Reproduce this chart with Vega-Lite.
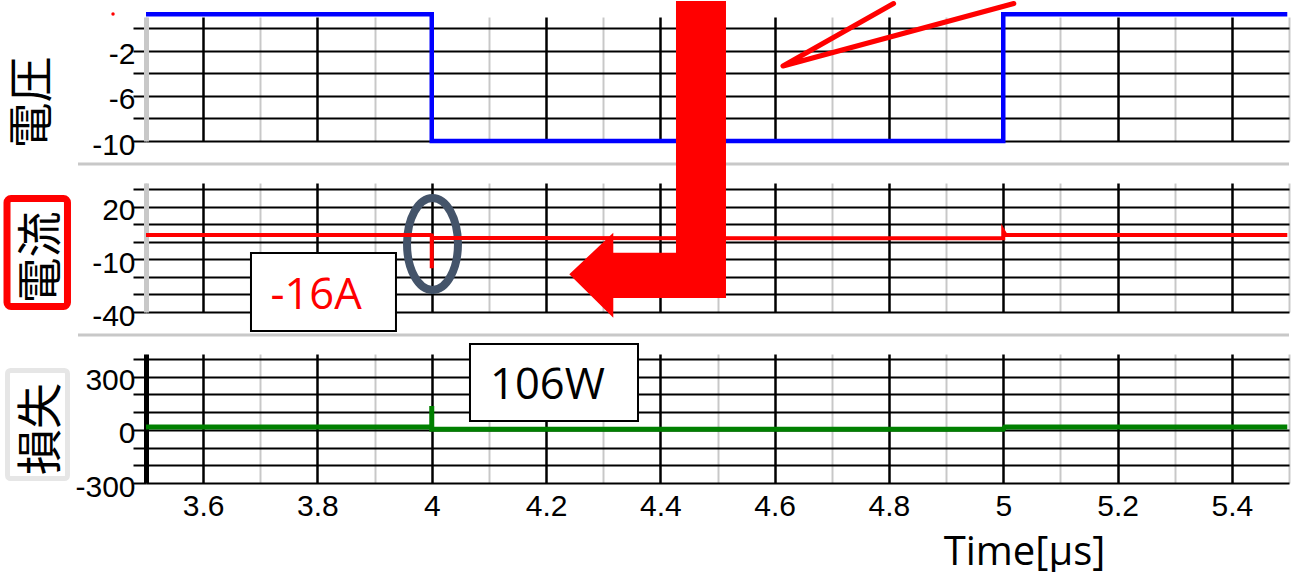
{
  "$schema": "https://vega.github.io/schema/vega-lite/v6.json",
  "padding": {"left": 3, "top": 0, "right": 0, "bottom": 0},
  "bounds": "flush",
  "spacing": 42,
  "config": {
    "view": {"stroke": null},
    "axis": {"labelFont": "Liberation Sans", "labelFontSize": 30, "labelColor": "black", "titleColor": "black", "labelOverlap": false, "labelFlush": false, "gridOpacity": 1}
  },
  "vconcat": [
    {
      "width": 1143,
      "height": 124,
      "encoding": {
        "x": {"field": "t", "type": "quantitative", "scale": {"domain": [3.5, 5.5], "nice": false, "zero": false},
          "axis": {"values": [3.5,3.6,3.7,3.8,3.9,4,4.1,4.2,4.3,4.4,4.5,4.6,4.7,4.8,4.9,5,5.1,5.2,5.3,5.4,5.5],
            "labels": false, "ticks": false, "domain": false, "title": null, "grid": true,
            "gridColor": {"condition": {"test": "round(datum.value*10) % 2 == 0", "value": "black"}, "value": "#c8c8c8"},
            "gridWidth": {"condition": {"test": "round(datum.value*10) % 2 == 0", "value": 2.5}, "value": 2}}},
        "y": {"field": "v", "type": "quantitative", "scale": {"domain": [-10, 1], "nice": false, "zero": false},
          "axis": {"values": [0,-2,-4,-6,-8,-10],
            "labelExpr": "datum.value == -2 || datum.value == -6 || datum.value == -10 ? '' + datum.value : ''",
            "grid": true, "gridColor": "black", "gridWidth": 2,
            "ticks": true, "tickSize": 13, "tickColor": "black", "tickWidth": 2,
            "domain": true, "domainColor": "#c8c8c8", "domainWidth": 5,
            "labelPadding": -2, "labelOffset": 4,
            "title": "電圧", "titleFont": "Noto Sans CJK JP", "titleFontSize": 46, "titleFontWeight": "normal",
            "titleAngle": -90, "titleX": -113.6, "titleY": 85, "titleAlign": "center", "titleBaseline": "middle"}}
      },
      "layer": [
        {
          "data": {"values": [
            {"i": 0, "t": 3.5, "v": 1.25}, {"i": 1, "t": 4.0, "v": 1.25}, {"i": 2, "t": 4.0, "v": -10},
            {"i": 3, "t": 5.0, "v": -10}, {"i": 4, "t": 5.0, "v": 1.25}, {"i": 5, "t": 5.497, "v": 1.25}]},
          "mark": {"type": "line", "color": "#0000ff", "strokeWidth": 4.5},
          "encoding": {"order": {"field": "i", "type": "quantitative"}}
        },
        {
          "data": {"values": [
            {"i": 0, "t": 4.8081, "v": 2.1976}, {"i": 1, "t": 4.6146, "v": -3.347}, {"i": 2, "t": 5.0185, "v": 2.1976}]},
          "mark": {"type": "line", "color": "#ff0000", "strokeWidth": 5, "strokeCap": "round", "strokeJoin": "round"},
          "encoding": {"order": {"field": "i", "type": "quantitative"}}
        },
        {
          "data": {"values": [{"t": 3.4423, "v": 1.266}]},
          "mark": {"type": "point", "shape": "circle", "filled": true, "color": "#ff0000", "size": 12, "opacity": 1}
        }
      ]
    },
    {
      "width": 1143,
      "height": 129,
      "encoding": {
        "x": {"field": "t", "type": "quantitative", "scale": {"domain": [3.5, 5.5], "nice": false, "zero": false},
          "axis": {"values": [3.5,3.6,3.7,3.8,3.9,4,4.1,4.2,4.3,4.4,4.5,4.6,4.7,4.8,4.9,5,5.1,5.2,5.3,5.4,5.5],
            "labels": false, "ticks": false, "domain": false, "title": null, "grid": true,
            "gridColor": {"condition": {"test": "round(datum.value*10) % 2 == 0", "value": "black"}, "value": "#c8c8c8"},
            "gridWidth": {"condition": {"test": "round(datum.value*10) % 2 == 0", "value": 2.5}, "value": 2}}},
        "y": {"field": "v", "type": "quantitative", "scale": {"domain": [-40, 33.6], "nice": false, "zero": false},
          "axis": {"values": [30,20,10,0,-10,-20,-30,-40],
            "labelExpr": "datum.value == 20 || datum.value == -10 || datum.value == -40 ? '' + datum.value : ''",
            "grid": true, "gridColor": "black", "gridWidth": 2,
            "ticks": true, "tickSize": 13, "tickColor": "black", "tickWidth": 2,
            "domain": true, "domainColor": "#c8c8c8", "domainWidth": 5,
            "labelPadding": -2, "labelOffset": 4,
            "title": "電流", "titleFont": "Noto Sans CJK JP", "titleFontSize": 46, "titleFontWeight": "normal",
            "titleAngle": -90, "titleX": -104.6, "titleY": 74, "titleAlign": "center", "titleBaseline": "middle"}}
      },
      "layer": [
        {
          "data": {"values": [{"t": 3.381, "t2": 5.5, "v": 44.44}]},
          "mark": {"type": "rule", "color": "#c8c8c8", "strokeWidth": 3},
          "encoding": {"x2": {"field": "t2"}}
        },
        {
          "data": {"values": [{"t": 3.2568, "t2": 3.3626, "v": 24.76, "v2": -36.86}]},
          "mark": {"type": "rect", "fill": null, "fillOpacity": 0, "stroke": "#ff0000", "strokeWidth": 7, "cornerRadius": 4},
          "encoding": {"x2": {"field": "t2"}, "y2": {"field": "v2"}}
        },
        {
          "data": {"values": [{"t": 4.0013, "v": -1.2}]},
          "mark": {"type": "point", "shape": "M 0.52 0 C 0.52 0.5186 0.2872 0.939 0 0.939 C -0.2872 0.939 -0.52 0.5186 -0.52 0 C -0.52 -0.5186 -0.2872 -0.939 0 -0.939 C 0.2872 -0.939 0.52 -0.5186 0.52 0 Z",
            "size": 9604, "filled": false, "color": "#44546A", "strokeWidth": 8, "opacity": 1}
        },
        {
          "data": {"values": [
            {"i": 0, "t": 3.5, "v": 3.9}, {"i": 1, "t": 3.999, "v": 3.9}, {"i": 2, "t": 4.0, "v": 4.7},
            {"i": 3, "t": 4.0, "v": -15}, {"i": 4, "t": 4.0, "v": 2.2}, {"i": 5, "t": 5.0, "v": 2.1},
            {"i": 6, "t": 5.0, "v": 6.2}, {"i": 7, "t": 5.004, "v": 3.9}, {"i": 8, "t": 5.497, "v": 3.9}]},
          "mark": {"type": "line", "color": "#ff0000", "strokeWidth": 4},
          "encoding": {"order": {"field": "i", "type": "quantitative"}}
        },
        {
          "data": {"values": [{"t": 3.6837, "t2": 3.9374, "v": -6.34, "v2": -50.84}]},
          "mark": {"type": "rect", "fill": "white", "stroke": "black", "strokeWidth": 2},
          "encoding": {"x2": {"field": "t2"}, "y2": {"field": "v2"}}
        },
        {
          "data": {"values": [{"t": 3.7975, "v": -38.29, "label": "-16A"}]},
          "mark": {"type": "text", "font": "Open Sans", "fontSize": 43.5, "color": "#ff0000", "align": "center", "baseline": "alphabetic"},
          "encoding": {"text": {"field": "label"}}
        },
        {
          "data": {"values": [{"t": 4.3775, "v": 52.71}]},
          "mark": {"type": "point", "shape": "M 0.1919 -1 L 0.5286 -1 L 0.5286 1 L -0.2303 1 L -0.2303 1.1327 L -0.5266 0.8404 L -0.2303 0.5603 L -0.2303 0.6949 L 0.1919 0.6949 Z",
            "size": 88209, "filled": true, "color": "#ff0000", "opacity": 1}
        }
      ]
    },
    {
      "width": 1143,
      "height": 129,
      "encoding": {
        "x": {"field": "t", "type": "quantitative", "scale": {"domain": [3.5, 5.5], "nice": false, "zero": false},
          "axis": {"values": [3.5,3.6,3.7,3.8,3.9,4,4.1,4.2,4.3,4.4,4.5,4.6,4.7,4.8,4.9,5,5.1,5.2,5.3,5.4,5.5],
            "labelExpr": "round(datum.value*10) % 2 == 0 ? '' + datum.value : ''",
            "ticks": false, "domain": false, "grid": true, "labelPadding": 8,
            "gridColor": {"condition": {"test": "round(datum.value*10) % 2 == 0", "value": "black"}, "value": "#c8c8c8"},
            "gridWidth": {"condition": {"test": "round(datum.value*10) % 2 == 0", "value": 2.5}, "value": 2},
            "title": "Time[µs]", "titleFont": "Open Sans", "titleFontSize": 40, "titleFontWeight": "normal",
            "titleX": 878, "titleY": 81, "titleAlign": "center", "titleBaseline": "alphabetic"}},
        "y": {"field": "v", "type": "quantitative", "scale": {"domain": [-300, 428], "nice": false, "zero": false},
          "axis": {"values": [400,300,200,100,0,-100,-200,-300],
            "labelExpr": "datum.value == 300 || datum.value == 0 || datum.value == -300 ? '' + datum.value : ''",
            "grid": true, "gridColor": "black", "gridWidth": 2,
            "ticks": true, "tickSize": 13, "tickColor": "black", "tickWidth": 2,
            "domain": true, "domainColor": "black", "domainWidth": 5,
            "labelPadding": -2, "labelOffset": 4,
            "title": "損失", "titleFont": "Noto Sans CJK JP", "titleFontSize": 46, "titleFontWeight": "normal",
            "titleAngle": -90, "titleX": -104.6, "titleY": 74.5, "titleAlign": "center", "titleBaseline": "middle"}}
      },
      "layer": [
        {
          "data": {"values": [{"t": 3.381, "t2": 5.5, "v": 535.2}]},
          "mark": {"type": "rule", "color": "#c8c8c8", "strokeWidth": 3},
          "encoding": {"x2": {"field": "t2"}}
        },
        {
          "data": {"values": [{"t": 3.2577, "t2": 3.3626, "v": 334.9, "v2": -274.6}]},
          "mark": {"type": "rect", "fill": null, "fillOpacity": 0, "stroke": "#e6e6e6", "strokeWidth": 5, "cornerRadius": 3},
          "encoding": {"x2": {"field": "t2"}, "y2": {"field": "v2"}}
        },
        {
          "data": {"values": [
            {"i": 0, "t": 3.5, "v": 16}, {"i": 1, "t": 4.0, "v": 16}, {"i": 2, "t": 4.0, "v": 135},
            {"i": 3, "t": 4.0, "v": 3}, {"i": 4, "t": 5.0, "v": 3}, {"i": 5, "t": 5.003, "v": 16},
            {"i": 6, "t": 5.497, "v": 16}]},
          "mark": {"type": "line", "color": "#008000", "strokeWidth": 5},
          "encoding": {"order": {"field": "i", "type": "quantitative"}}
        },
        {
          "data": {"values": [{"t": 4.0669, "t2": 4.3609, "v": 484.4, "v2": 49.9}]},
          "mark": {"type": "rect", "fill": "white", "stroke": "black", "strokeWidth": 2},
          "encoding": {"x2": {"field": "t2"}, "y2": {"field": "v2"}}
        },
        {
          "data": {"values": [{"t": 4.2025, "v": 174, "label": "106W"}]},
          "mark": {"type": "text", "font": "Open Sans", "fontSize": 43.5, "color": "black", "align": "center", "baseline": "alphabetic"},
          "encoding": {"text": {"field": "label"}}
        }
      ]
    }
  ]
}
